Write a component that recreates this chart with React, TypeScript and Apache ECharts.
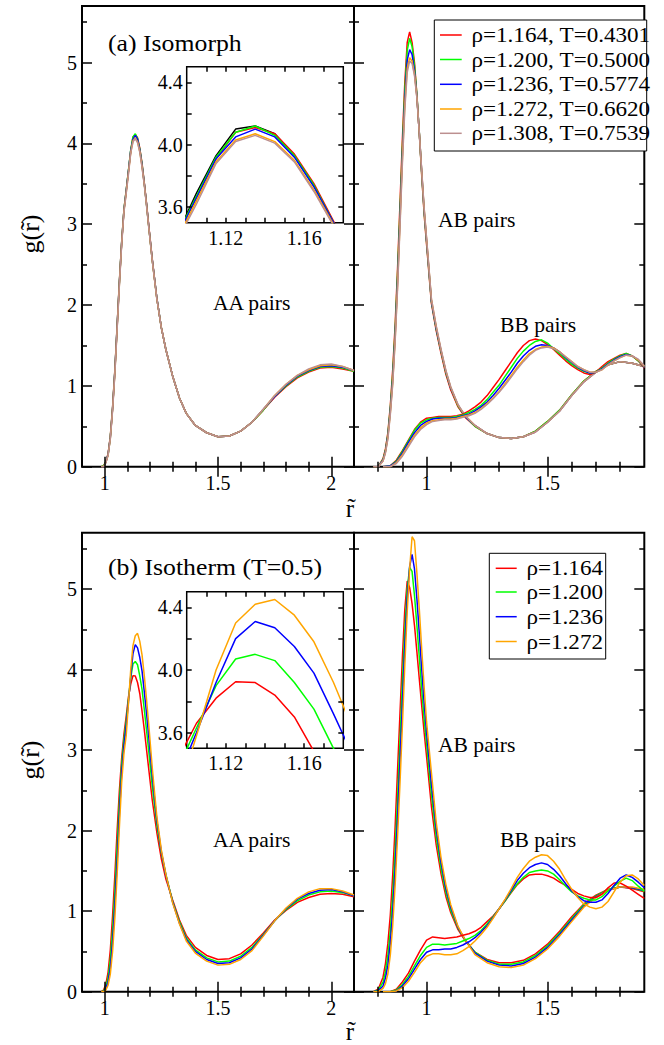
import React, { useEffect, useRef } from "react";
import * as echarts from "echarts";

const FONT = "'Liberation Serif', 'Times New Roman', serif";

const RED = "#ff0000";
const GREEN = "#00ff00";
const BLUE = "#0000ff";
const ORANGE = "#ffa500";
const BROWN = "#bc8f8f";
const BLACK = "#000000";

const isoLabels = ["ρ=1.164, T=0.4301", "ρ=1.200, T=0.5000", "ρ=1.236, T=0.5774", "ρ=1.272, T=0.6620", "ρ=1.308, T=0.7539"];
const thermLabels = ["ρ=1.164", "ρ=1.200", "ρ=1.236", "ρ=1.272"];
const isoColors = [RED, GREEN, BLUE, ORANGE, BROWN];
const thermColors = [RED, GREEN, BLUE, ORANGE];

// tick values
const xMajorLeft = [1, 1.5, 2];
const xMinorLeft = [1.1, 1.2, 1.3, 1.4, 1.6, 1.7, 1.8, 1.9];
const xMajorRight = [1, 1.5];
const xMinorRight = [0.8, 0.9, 1.1, 1.2, 1.3, 1.4, 1.6, 1.7, 1.8];
const yMajor = [0, 1, 2, 3, 4, 5];
const yMinor = [0.5, 1.5, 2.5, 3.5, 4.5, 5.5];
const insetXTicks = [1.11, 1.12, 1.13, 1.14, 1.15, 1.16, 1.17];
const insetXLabels = [1.12, 1.16];
const insetYTicks = [3.6, 3.8, 4.0, 4.2, 4.4];
const insetYLabels = [3.6, 4.0, 4.4];

// ---------- AA pairs ----------
const rAA = [0.985, 0.995, 1.005, 1.015, 1.025, 1.035, 1.045, 1.055, 1.065, 1.075, 1.085, 1.095, 1.105, 1.115, 1.125, 1.135, 1.145, 1.155, 1.165, 1.175, 1.185, 1.195, 1.21, 1.23, 1.25, 1.27, 1.30, 1.33, 1.36, 1.40, 1.45, 1.50, 1.55, 1.60, 1.65, 1.70, 1.75, 1.80, 1.85, 1.90, 1.95, 2.00, 2.05, 2.10];

const aaIsoRed = [0, 0.01, 0.06, 0.16, 0.38, 0.74, 1.20, 1.75, 2.30, 2.78, 3.18, 3.42, 3.66, 3.91, 4.08, 4.11, 4.07, 3.94, 3.75, 3.51, 3.25, 2.97, 2.57, 2.09, 1.72, 1.45, 1.12, 0.85, 0.66, 0.51, 0.42, 0.37, 0.38, 0.44, 0.55, 0.70, 0.86, 0.99, 1.10, 1.17, 1.22, 1.23, 1.21, 1.18];
const aaIsoGreen = [0, 0.01, 0.06, 0.15, 0.37, 0.73, 1.19, 1.74, 2.29, 2.78, 3.18, 3.42, 3.67, 3.92, 4.08, 4.12, 4.06, 3.93, 3.74, 3.50, 3.24, 2.96, 2.56, 2.09, 1.72, 1.45, 1.12, 0.85, 0.66, 0.51, 0.42, 0.37, 0.38, 0.44, 0.55, 0.70, 0.87, 1.00, 1.11, 1.18, 1.23, 1.24, 1.22, 1.18];
const aaIsoBlue = [0, 0.0, 0.05, 0.15, 0.36, 0.72, 1.18, 1.73, 2.28, 2.77, 3.17, 3.41, 3.66, 3.91, 4.05, 4.10, 4.05, 3.92, 3.73, 3.50, 3.24, 2.96, 2.56, 2.09, 1.72, 1.45, 1.12, 0.85, 0.66, 0.51, 0.42, 0.37, 0.38, 0.44, 0.55, 0.71, 0.87, 1.01, 1.12, 1.19, 1.24, 1.25, 1.23, 1.19];
const aaIsoOrange = [0, 0.0, 0.05, 0.14, 0.35, 0.71, 1.16, 1.71, 2.26, 2.76, 3.16, 3.39, 3.64, 3.89, 4.03, 4.07, 4.02, 3.90, 3.71, 3.49, 3.23, 2.95, 2.55, 2.08, 1.72, 1.45, 1.12, 0.85, 0.66, 0.51, 0.42, 0.37, 0.38, 0.44, 0.55, 0.71, 0.88, 1.02, 1.13, 1.20, 1.25, 1.26, 1.24, 1.19];
const aaIsoBrown = [0, 0.0, 0.05, 0.14, 0.35, 0.70, 1.15, 1.70, 2.25, 2.75, 3.15, 3.38, 3.62, 3.88, 4.02, 4.06, 4.01, 3.89, 3.70, 3.48, 3.22, 2.95, 2.55, 2.08, 1.72, 1.45, 1.12, 0.85, 0.66, 0.51, 0.42, 0.37, 0.38, 0.44, 0.55, 0.71, 0.88, 1.02, 1.13, 1.21, 1.26, 1.27, 1.24, 1.19];

// extra black curve seen only in inset (a)
const rInsetBlack = [1.095, 1.105, 1.115, 1.125, 1.135, 1.145, 1.155, 1.165, 1.175, 1.185];
const gInsetBlack = [3.42, 3.69, 3.93, 4.10, 4.12, 4.07, 3.93, 3.74, 3.50, 3.24];

const aaThermRed = [0, 0.02, 0.09, 0.24, 0.52, 0.95, 1.45, 2.00, 2.50, 2.90, 3.20, 3.42, 3.66, 3.82, 3.925, 3.92, 3.84, 3.70, 3.48, 3.25, 3.00, 2.75, 2.38, 1.98, 1.65, 1.40, 1.14, 0.89, 0.70, 0.55, 0.45, 0.40, 0.41, 0.47, 0.58, 0.73, 0.89, 1.01, 1.11, 1.17, 1.21, 1.22, 1.21, 1.18];
const aaThermGreen = [0, 0.01, 0.06, 0.17, 0.40, 0.77, 1.25, 1.80, 2.35, 2.82, 3.13, 3.36, 3.63, 3.90, 4.07, 4.10, 4.06, 3.92, 3.75, 3.50, 3.24, 2.97, 2.55, 2.07, 1.72, 1.45, 1.12, 0.87, 0.67, 0.52, 0.42, 0.37, 0.38, 0.44, 0.55, 0.71, 0.88, 1.02, 1.13, 1.20, 1.24, 1.25, 1.23, 1.19];
const aaThermBlue = [0, 0.0, 0.04, 0.12, 0.30, 0.62, 1.08, 1.62, 2.20, 2.72, 3.05, 3.30, 3.60, 3.92, 4.20, 4.31, 4.27, 4.15, 3.98, 3.72, 3.45, 3.15, 2.68, 2.13, 1.74, 1.45, 1.11, 0.85, 0.65, 0.50, 0.40, 0.35, 0.36, 0.42, 0.53, 0.70, 0.88, 1.03, 1.15, 1.22, 1.26, 1.27, 1.24, 1.19];
const aaThermOrange = [0, 0.0, 0.02, 0.08, 0.22, 0.50, 0.92, 1.45, 2.05, 2.60, 2.96, 3.18, 3.58, 4.00, 4.30, 4.42, 4.45, 4.35, 4.18, 3.92, 3.62, 3.30, 2.78, 2.18, 1.76, 1.46, 1.10, 0.84, 0.63, 0.48, 0.38, 0.33, 0.34, 0.40, 0.51, 0.69, 0.88, 1.04, 1.16, 1.24, 1.28, 1.28, 1.25, 1.20];

// ---------- AB pairs ----------
const rAB = [0.78, 0.80, 0.82, 0.83, 0.84, 0.85, 0.86, 0.87, 0.88, 0.89, 0.90, 0.91, 0.92, 0.93, 0.94, 0.95, 0.96, 0.97, 0.98, 0.99, 1.00, 1.02, 1.04, 1.06, 1.08, 1.10, 1.13, 1.16, 1.20, 1.25, 1.30, 1.35, 1.40, 1.45, 1.50, 1.55, 1.60, 1.65, 1.70, 1.75, 1.80, 1.85, 1.90];

const abIsoRed = [0, 0.0, 0.10, 0.22, 0.42, 0.75, 1.20, 1.75, 2.45, 3.25, 4.05, 4.75, 5.25, 5.38, 5.25, 5.00, 4.60, 4.12, 3.60, 3.12, 2.75, 2.02, 1.68, 1.40, 1.14, 0.95, 0.74, 0.61, 0.50, 0.41, 0.36, 0.35, 0.37, 0.44, 0.56, 0.70, 0.89, 1.06, 1.18, 1.26, 1.30, 1.28, 1.24];
const abIsoGreen = [0, 0.0, 0.09, 0.20, 0.40, 0.72, 1.14, 1.68, 2.38, 3.15, 3.95, 4.65, 5.15, 5.30, 5.20, 4.96, 4.60, 4.13, 3.62, 3.15, 2.78, 2.04, 1.70, 1.42, 1.16, 0.97, 0.75, 0.62, 0.50, 0.41, 0.36, 0.35, 0.37, 0.44, 0.56, 0.70, 0.89, 1.06, 1.18, 1.26, 1.30, 1.28, 1.24];
const abIsoBlue = [0, 0.0, 0.08, 0.19, 0.38, 0.69, 1.08, 1.62, 2.30, 3.07, 3.87, 4.55, 5.03, 5.16, 5.10, 4.90, 4.58, 4.13, 3.64, 3.17, 2.80, 2.05, 1.71, 1.43, 1.17, 0.97, 0.76, 0.62, 0.51, 0.41, 0.36, 0.35, 0.37, 0.43, 0.55, 0.69, 0.88, 1.05, 1.17, 1.26, 1.30, 1.28, 1.24];
const abIsoOrange = [0, 0.0, 0.07, 0.18, 0.36, 0.66, 1.04, 1.57, 2.24, 3.00, 3.80, 4.47, 4.93, 5.06, 5.02, 4.86, 4.57, 4.13, 3.65, 3.19, 2.82, 2.07, 1.73, 1.44, 1.18, 0.98, 0.76, 0.63, 0.51, 0.41, 0.36, 0.35, 0.37, 0.43, 0.55, 0.69, 0.88, 1.05, 1.17, 1.26, 1.30, 1.28, 1.24];
const abIsoBrown = [0, 0.0, 0.07, 0.17, 0.34, 0.64, 1.02, 1.55, 2.20, 2.96, 3.75, 4.42, 4.88, 5.02, 4.99, 4.84, 4.56, 4.13, 3.66, 3.20, 2.83, 2.08, 1.74, 1.45, 1.19, 0.99, 0.77, 0.63, 0.51, 0.41, 0.36, 0.35, 0.37, 0.43, 0.55, 0.69, 0.88, 1.05, 1.17, 1.26, 1.30, 1.28, 1.24];

const abThermRed = [0, 0.03, 0.18, 0.35, 0.60, 0.95, 1.45, 2.05, 2.75, 3.45, 4.15, 4.75, 5.10, 5.02, 4.82, 4.55, 4.22, 3.88, 3.55, 3.22, 2.92, 2.30, 1.82, 1.46, 1.18, 0.98, 0.77, 0.63, 0.49, 0.40, 0.36, 0.36, 0.39, 0.47, 0.59, 0.75, 0.93, 1.09, 1.20, 1.27, 1.30, 1.28, 1.24];
const abThermGreen = [0, 0.02, 0.12, 0.25, 0.45, 0.75, 1.20, 1.75, 2.40, 3.10, 3.85, 4.50, 5.00, 5.27, 5.22, 4.92, 4.55, 4.15, 3.75, 3.38, 3.08, 2.45, 1.92, 1.53, 1.23, 1.01, 0.79, 0.64, 0.49, 0.39, 0.34, 0.34, 0.37, 0.45, 0.57, 0.73, 0.91, 1.08, 1.19, 1.27, 1.30, 1.29, 1.25];
const abThermBlue = [0, 0.01, 0.07, 0.17, 0.33, 0.60, 1.00, 1.52, 2.15, 2.85, 3.58, 4.30, 4.88, 5.28, 5.43, 5.25, 4.88, 4.45, 4.00, 3.58, 3.22, 2.58, 2.02, 1.60, 1.28, 1.05, 0.80, 0.64, 0.48, 0.38, 0.33, 0.32, 0.35, 0.43, 0.55, 0.71, 0.89, 1.06, 1.18, 1.26, 1.30, 1.29, 1.26];
const abThermOrange = [0, 0.0, 0.04, 0.10, 0.22, 0.45, 0.82, 1.32, 1.92, 2.58, 3.30, 4.05, 4.72, 5.25, 5.65, 5.60, 5.20, 4.75, 4.25, 3.78, 3.35, 2.72, 2.10, 1.66, 1.33, 1.08, 0.81, 0.64, 0.46, 0.36, 0.31, 0.30, 0.33, 0.41, 0.53, 0.69, 0.87, 1.05, 1.17, 1.26, 1.30, 1.30, 1.27];

// ---------- BB pairs ----------
const rBB = [0.82, 0.85, 0.875, 0.90, 0.925, 0.95, 0.975, 1.00, 1.025, 1.05, 1.075, 1.10, 1.125, 1.15, 1.175, 1.20, 1.225, 1.25, 1.275, 1.30, 1.325, 1.35, 1.375, 1.40, 1.425, 1.45, 1.475, 1.50, 1.525, 1.55, 1.575, 1.60, 1.625, 1.65, 1.675, 1.70, 1.725, 1.75, 1.775, 1.80, 1.825, 1.85, 1.875, 1.90];

const bbIsoRed = [0, 0.01, 0.08, 0.20, 0.33, 0.46, 0.55, 0.60, 0.61, 0.62, 0.62, 0.62, 0.63, 0.65, 0.69, 0.74, 0.80, 0.88, 0.98, 1.08, 1.19, 1.30, 1.41, 1.50, 1.56, 1.58, 1.56, 1.51, 1.45, 1.38, 1.31, 1.25, 1.20, 1.16, 1.14, 1.17, 1.24, 1.30, 1.34, 1.38, 1.40, 1.37, 1.31, 1.22];
const bbIsoGreen = [0, 0.01, 0.07, 0.19, 0.32, 0.45, 0.54, 0.58, 0.60, 0.61, 0.61, 0.61, 0.62, 0.64, 0.67, 0.71, 0.76, 0.83, 0.92, 1.01, 1.12, 1.23, 1.34, 1.43, 1.50, 1.55, 1.57, 1.53, 1.46, 1.40, 1.33, 1.27, 1.22, 1.18, 1.16, 1.17, 1.22, 1.28, 1.33, 1.37, 1.40, 1.37, 1.31, 1.23];
const bbIsoBlue = [0, 0.01, 0.06, 0.17, 0.30, 0.42, 0.51, 0.56, 0.59, 0.60, 0.60, 0.60, 0.61, 0.63, 0.65, 0.69, 0.74, 0.80, 0.88, 0.97, 1.07, 1.17, 1.28, 1.37, 1.44, 1.49, 1.51, 1.50, 1.47, 1.42, 1.35, 1.29, 1.23, 1.19, 1.16, 1.17, 1.21, 1.27, 1.32, 1.36, 1.39, 1.37, 1.32, 1.23];
const bbIsoOrange = [0, 0.0, 0.05, 0.15, 0.27, 0.39, 0.48, 0.54, 0.57, 0.58, 0.59, 0.59, 0.60, 0.62, 0.64, 0.67, 0.72, 0.78, 0.85, 0.93, 1.03, 1.13, 1.23, 1.32, 1.40, 1.45, 1.48, 1.49, 1.47, 1.42, 1.36, 1.30, 1.24, 1.20, 1.17, 1.17, 1.20, 1.26, 1.31, 1.35, 1.38, 1.37, 1.32, 1.24];
const bbIsoBrown = [0, 0.0, 0.04, 0.13, 0.25, 0.37, 0.46, 0.52, 0.56, 0.57, 0.58, 0.58, 0.59, 0.61, 0.63, 0.66, 0.71, 0.77, 0.84, 0.92, 1.01, 1.11, 1.21, 1.30, 1.38, 1.44, 1.47, 1.48, 1.46, 1.42, 1.36, 1.30, 1.24, 1.20, 1.17, 1.17, 1.20, 1.26, 1.31, 1.35, 1.38, 1.37, 1.33, 1.25];

const bbThermRed = [0, 0.0, 0.03, 0.12, 0.23, 0.38, 0.52, 0.64, 0.68, 0.67, 0.66, 0.67, 0.68, 0.70, 0.72, 0.75, 0.80, 0.87, 0.94, 1.03, 1.13, 1.23, 1.33, 1.40, 1.45, 1.46, 1.46, 1.44, 1.41, 1.36, 1.32, 1.27, 1.22, 1.19, 1.17, 1.17, 1.21, 1.29, 1.35, 1.35, 1.31, 1.26, 1.21, 1.16];
const bbThermGreen = [0, 0, 0.02, 0.09, 0.19, 0.32, 0.45, 0.55, 0.59, 0.59, 0.58, 0.59, 0.60, 0.63, 0.66, 0.70, 0.76, 0.84, 0.93, 1.03, 1.13, 1.24, 1.34, 1.42, 1.48, 1.50, 1.51, 1.50, 1.46, 1.39, 1.31, 1.24, 1.19, 1.16, 1.14, 1.14, 1.18, 1.25, 1.31, 1.37, 1.41, 1.38, 1.31, 1.25];
const bbThermBlue = [0, 0, 0.01, 0.07, 0.16, 0.28, 0.40, 0.49, 0.52, 0.52, 0.53, 0.53, 0.55, 0.58, 0.62, 0.67, 0.74, 0.82, 0.92, 1.03, 1.14, 1.26, 1.38, 1.47, 1.54, 1.58, 1.60, 1.58, 1.52, 1.44, 1.34, 1.25, 1.18, 1.13, 1.11, 1.11, 1.14, 1.22, 1.32, 1.41, 1.45, 1.42, 1.36, 1.29];
const bbThermOrange = [0, 0, 0.01, 0.05, 0.13, 0.24, 0.36, 0.44, 0.47, 0.47, 0.46, 0.46, 0.47, 0.51, 0.56, 0.63, 0.71, 0.80, 0.91, 1.03, 1.15, 1.28, 1.42, 1.53, 1.62, 1.67, 1.70, 1.69, 1.62, 1.52, 1.39, 1.27, 1.17, 1.09, 1.05, 1.03, 1.05, 1.12, 1.24, 1.36, 1.44, 1.45, 1.40, 1.32];

const aaIso = [aaIsoRed, aaIsoGreen, aaIsoBlue, aaIsoOrange, aaIsoBrown];
const abIso = [abIsoRed, abIsoGreen, abIsoBlue, abIsoOrange, abIsoBrown];
const bbIso = [bbIsoRed, bbIsoGreen, bbIsoBlue, bbIsoOrange, bbIsoBrown];
const aaTherm = [aaThermRed, aaThermGreen, aaThermBlue, aaThermOrange];
const abTherm = [abThermRed, abThermGreen, abThermBlue, abThermOrange];
const bbTherm = [bbThermRed, bbThermGreen, bbThermBlue, bbThermOrange];

function pairs(r: number[], g: number[]) {
  return r.map((x, i) => [x, g[i]]);
}

function buildOption() {
  const grids: any[] = [];
  const xAxes: any[] = [];
  const yAxes: any[] = [];
  const series: any[] = [];

  const tickStyle = { color: "#000", width: 1.5 };
  const labelBase = { fontFamily: FONT, color: "#000" };

  function addPanel(p: any) {
    const gi = grids.length;
    grids.push({
      left: p.left, top: p.top, width: p.width, height: p.height,
      show: true, borderColor: "#000", borderWidth: p.border,
      backgroundColor: "#fff", z: p.z, containLabel: false,
    });
    const xi = xAxes.length;
    ["bottom", "top"].forEach((pos, k) => {
      xAxes.push({
        type: "value", gridIndex: gi, position: pos, min: p.xmin, max: p.xmax, z: p.z + 2,
        axisLine: { show: false }, splitLine: { show: false },
        axisTick: { show: true, inside: true, length: p.majorLen, customValues: p.xMajor, lineStyle: tickStyle },
        axisLabel: k === 0 && p.xLabels ? { show: true, customValues: p.xLabels, formatter: p.xFmt, fontSize: p.fs, margin: p.xMargin, ...labelBase } : { show: false },
      });
      if (p.xMinor) {
        xAxes.push({
          type: "value", gridIndex: gi, position: pos, min: p.xmin, max: p.xmax, z: p.z + 2,
          axisLine: { show: false }, splitLine: { show: false },
          axisTick: { show: true, inside: true, length: p.minorLen, customValues: p.xMinor, lineStyle: tickStyle },
          axisLabel: { show: false },
        });
      }
    });
    const yi = yAxes.length;
    ["left", "right"].forEach((pos, k) => {
      yAxes.push({
        type: "value", gridIndex: gi, position: pos, min: p.ymin, max: p.ymax, z: p.z + 2,
        axisLine: { show: false }, splitLine: { show: false },
        axisTick: { show: true, inside: true, length: p.majorLen, customValues: p.yMajor, lineStyle: tickStyle },
        axisLabel: k === 0 && p.yLabels ? { show: true, customValues: p.yLabels, formatter: p.yFmt, fontSize: p.fs, margin: p.yMargin, ...labelBase } : { show: false },
      });
      if (p.yMinor) {
        yAxes.push({
          type: "value", gridIndex: gi, position: pos, min: p.ymin, max: p.ymax, z: p.z + 2,
          axisLine: { show: false }, splitLine: { show: false },
          axisTick: { show: true, inside: true, length: p.minorLen, customValues: p.yMinor, lineStyle: tickStyle },
          axisLabel: { show: false },
        });
      }
    });
    return { xi, yi, z: p.z };
  }

  function addCurves(panel: any, r: number[], list: number[][], colors: string[], names: string[]) {
    list.forEach((g, i) => {
      series.push({
        type: "line", name: names[i], xAxisIndex: panel.xi, yAxisIndex: panel.yi,
        data: pairs(r, g), showSymbol: false, symbol: "none", clip: true, silent: true,
        z: panel.z + 1,
        lineStyle: { color: colors[i], width: 1.5 },
      });
    });
  }

  const fmtPlain = (v: number) => String(Math.round(v * 100) / 100);
  const mainCommon = {
    ymin: 0, ymax: 5.7, yMajor, yMinor, majorLen: 10, minorLen: 5,
    fs: 20, xMargin: 6, yMargin: 5, xFmt: fmtPlain, yFmt: fmtPlain, border: 2, z: 2,
  };
  const panels = [
    { top: 6, bottom: 466.7 },
    { top: 532.7, bottom: 991.7 },
  ];

  const made: any[] = [];
  panels.forEach((pp) => {
    const L = addPanel({
      ...mainCommon, left: 82, width: 272, top: pp.top, height: pp.bottom - pp.top,
      xmin: 0.9, xmax: 2.1, xMajor: xMajorLeft, xMinor: xMinorLeft, xLabels: xMajorLeft, yLabels: yMajor,
    });
    const R = addPanel({
      ...mainCommon, left: 354, width: 290.3, top: pp.top, height: pp.bottom - pp.top,
      xmin: 0.7, xmax: 1.9, xMajor: xMajorRight, xMinor: xMinorRight, xLabels: xMajorRight, yLabels: null,
    });
    made.push([L, R]);
  });

  const insetCommon = {
    xmin: 1.10, xmax: 1.18, ymin: 3.5, ymax: 4.5, xMajor: insetXTicks, xMinor: null,
    yMajor: insetYTicks, yMinor: null, xLabels: insetXLabels, yLabels: insetYLabels,
    majorLen: 5, minorLen: 5, fs: 20, xMargin: 5, yMargin: 4,
    xFmt: (v: number) => v.toFixed(2), yFmt: (v: number) => v.toFixed(1), border: 1.5, z: 10,
    left: 186.7, width: 156.6,
  };
  const insetA = addPanel({ ...insetCommon, top: 66.7, height: 156 });
  const insetB = addPanel({ ...insetCommon, top: 591.7, height: 156.6 });

  // (a) isomorph
  addCurves(made[0][0], rAA, aaIso, isoColors, isoLabels);
  addCurves(made[0][1], rAB, abIso, isoColors, isoLabels);
  addCurves(made[0][1], rBB, bbIso, isoColors, isoLabels);
  addCurves(insetA, rInsetBlack, [gInsetBlack], [BLACK], ["reference"]);
  addCurves(insetA, rAA, aaIso, isoColors, isoLabels);
  // (b) isotherm
  addCurves(made[1][0], rAA, aaTherm, thermColors, thermLabels);
  addCurves(made[1][1], rAB, abTherm, thermColors, thermLabels);
  addCurves(made[1][1], rBB, bbTherm, thermColors, thermLabels);
  addCurves(insetB, rAA, aaTherm, thermColors, thermLabels);

  const graphic: any[] = [];
  const txt = (text: string, x: number, y: number, fs: number, align = "left", extra: any = {}) => ({
    type: "text", x, y, z: 50, silent: true, ...extra,
    style: { text, fontSize: fs, fontFamily: FONT, fill: "#000", textAlign: align, textVerticalAlign: "middle" },
  });

  graphic.push(txt("(a) Isomorph", 108, 43, 23, "left", { scaleX: 1.12 }));
  graphic.push(txt("(b) Isotherm (T=0.5)", 108, 567, 23, "left", { scaleX: 1.12 }));
  [0, 1].forEach((k) => {
    const aaY = k === 0 ? 303 : 840;
    const abY = k === 0 ? 220 : 745;
    const bbY = k === 0 ? 325 : 840;
    graphic.push(txt("AA pairs", 213, aaY, 20, "left", { scaleX: 1.08 }));
    graphic.push(txt("AB pairs", 438, abY, 20, "left", { scaleX: 1.08 }));
    graphic.push(txt("BB pairs", 500, bbY, 20, "left", { scaleX: 1.08 }));
  });

  // legends
  const legendA = { x: 434.3, y: 20, w: 212.4, h: 131, rows: [35, 59.5, 84.3, 109, 133.3], lx1: 440, lx2: 461.7, tx: 471.5 };
  const legendB = { x: 489.3, y: 553.3, w: 116.4, h: 105.7, rows: [568.3, 592, 616.7, 641.5], lx1: 495.7, lx2: 516.7, tx: 526.5 };
  const addLegend = (lg: any, labels: string[], colors: string[]) => {
    graphic.push({
      type: "rect", z: 40, silent: true,
      shape: { x: lg.x, y: lg.y, width: lg.w, height: lg.h },
      style: { fill: "#fff", stroke: "#000", lineWidth: 1 },
    });
    labels.forEach((lab, i) => {
      graphic.push({
        type: "line", z: 41, silent: true,
        shape: { x1: lg.lx1, y1: lg.rows[i], x2: lg.lx2, y2: lg.rows[i] },
        style: { stroke: colors[i], lineWidth: 1.5 },
      });
      graphic.push(txt(lab, lg.tx, lg.rows[i], 21, "left", { scaleX: 1.1 }));
    });
  };
  addLegend(legendA, isoLabels, isoColors);
  addLegend(legendB, thermLabels, thermColors);

  // axis titles (r with a tilde)
  graphic.push(txt("r\u0303", 350, 508, 25, "center"));
  graphic.push(txt("r\u0303", 350, 1031, 25, "center"));
  [234, 760].forEach((cy) => {
    graphic.push(txt("g(r\u0303)", 30, cy, 26, "center", { rotation: Math.PI / 2 }));
  });

  return {
    animation: false,
    backgroundColor: "#fff",
    grid: grids,
    xAxis: xAxes,
    yAxis: yAxes,
    series,
    graphic,
  };
}

export default function App() {
  const ref = useRef<HTMLDivElement>(null);
  useEffect(() => {
    if (!ref.current) return;
    const chart = echarts.init(ref.current, undefined, { renderer: "svg" });
    chart.setOption(buildOption() as any);
    return () => chart.dispose();
  }, []);
  return <div ref={ref} style={{ position: "absolute", left: 0, top: 0, width: 664, height: 1045 }} />;
}
